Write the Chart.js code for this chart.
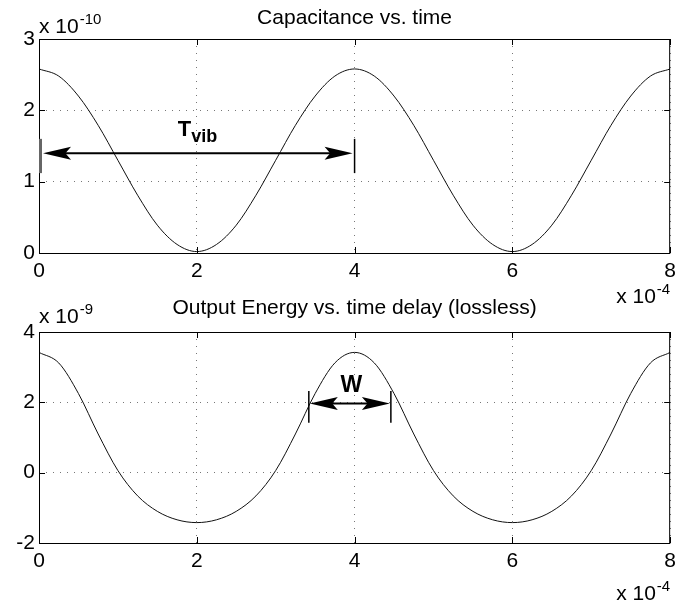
<!DOCTYPE html>
<html>
<head>
<meta charset="utf-8">
<script src="https://cdn.jsdelivr.net/npm/chart.js@4/dist/chart.umd.min.js"></script>
<style>
  body { margin: 0; background: #fff; }
  #wrap { position: relative; width: 682px; height: 603px; }
  canvas { position: absolute; left: 0; }
</style>
</head>
<body>
<div id="wrap">
  <canvas id="capChart" width="682" height="325" style="top:0px"></canvas>
  <canvas id="energyChart" width="682" height="323" style="top:280px"></canvas>
</div>
<script>
// --- data (time in 1e-4 s, capacitance in 1e-10 F, energy in 1e-9 J) ---
const timeE4 = [0, 0.25, 0.5, 0.75, 1, 1.25, 1.5, 1.75, 2, 2.25, 2.5, 2.75, 3, 3.25, 3.5, 3.75,
  4, 4.25, 4.5, 4.75, 5, 5.25, 5.5, 5.75, 6, 6.25, 6.5, 6.75, 7, 7.25, 7.5, 7.75, 8];
const capE10 = [2.58, 2.48, 2.20, 1.79, 1.30, 0.81, 0.39, 0.12, 0.02, 0.12, 0.39, 0.81, 1.30, 1.79, 2.20, 2.48,
  2.58, 2.48, 2.20, 1.79, 1.30, 0.81, 0.39, 0.12, 0.02, 0.12, 0.39, 0.81, 1.30, 1.79, 2.20, 2.48, 2.58];
const energyE9 = [3.42, 3.12, 2.25, 1.10, 0.06, -0.66, -1.10, -1.34, -1.42, -1.34, -1.10, -0.66, 0.06, 1.10, 2.25, 3.12,
  3.42, 3.12, 2.25, 1.10, 0.06, -0.66, -1.10, -1.34, -1.42, -1.34, -1.10, -0.66, 0.06, 1.10, 2.25, 3.12, 3.42];

const xTicks = [0, 2, 4, 6, 8];
const capTicks = [0, 1, 2, 3];
const energyTicks = [-2, 0, 2, 4];

// annotation spans (x from, x to) and levels
const tvibSpan = [0, 4];
const tvibLevel = 1.4;
const tvibBar = [1.12, 1.6];
const tvibLabelAt = [1.76, 1.64];
const wSpan = [3.42, 4.46];
const wLevel = 1.97;
const wBar = [1.42, 2.32];
const wLabelAt = [3.96, 2.28];

const FAMILY = '"Liberation Sans", Arial, Helvetica, sans-serif';
const FS = 21;

// --- helpers ---
function drawExp(ctx, x, base, exp, align) {
  ctx.font = `${FS}px ${FAMILY}`;
  const wBase = ctx.measureText('x 10').width;
  ctx.font = `${FS - 6}px ${FAMILY}`;
  const wSup = ctx.measureText(exp).width;
  const start = align === 'right' ? x - wBase - wSup - 1 : x;
  ctx.textAlign = 'left';
  ctx.font = `${FS}px ${FAMILY}`;
  ctx.fillText('x 10', start, base);
  ctx.font = `${FS - 6}px ${FAMILY}`;
  ctx.fillText(exp, start + wBase + 1, base - 9);
}

function drawArrow(ctx, x1, x2, y) {
  const len = 28, half = 6.5;
  ctx.lineWidth = 2;
  ctx.beginPath();
  ctx.moveTo(x1 + 10, y);
  ctx.lineTo(x2 - 10, y);
  ctx.stroke();
  [[x1, 1], [x2, -1]].forEach(([tip, dir]) => {
    ctx.beginPath();
    ctx.moveTo(tip, y);
    ctx.lineTo(tip + dir * len, y - half);
    ctx.lineTo(tip + dir * len * 0.8, y);
    ctx.lineTo(tip + dir * len, y + half);
    ctx.closePath();
    ctx.fill();
  });
}

function frameDecor(opts) {
  return {
    id: 'frameDecor',
    afterDraw(chart) {
      const { ctx, chartArea: a, scales: { x, y } } = chart;
      ctx.save();
      ctx.strokeStyle = '#000';
      ctx.fillStyle = '#000';
      ctx.lineWidth = 1;
      ctx.strokeRect(a.left + 0.5, a.top + 0.5, a.right - a.left - 1, a.bottom - a.top);

      // small inward ticks, matlab style
      ctx.beginPath();
      x.ticks.forEach(t => {
        const px = Math.round(x.getPixelForValue(t.value)) + 0.5;
        ctx.moveTo(px, a.bottom); ctx.lineTo(px, a.bottom - 6);
        ctx.moveTo(px, a.top); ctx.lineTo(px, a.top + 6);
      });
      y.ticks.forEach(t => {
        const py = Math.round(y.getPixelForValue(t.value)) + 0.5;
        ctx.moveTo(a.left, py); ctx.lineTo(a.left + 6, py);
        ctx.moveTo(a.right, py); ctx.lineTo(a.right - 6, py);
      });
      ctx.stroke();

      ctx.textBaseline = 'alphabetic';
      ctx.font = `${FS}px ${FAMILY}`;
      ctx.textAlign = 'center';
      ctx.fillText(opts.title, (a.left + a.right) / 2, a.top - opts.titleGap);
      drawExp(ctx, a.left, a.top - opts.yExpGap, opts.yExp, 'left');
      drawExp(ctx, a.right, a.bottom + opts.xExpGap, '-4', 'right');

      if (opts.extra) opts.extra(chart);
      ctx.restore();
    }
  };
}

function baseOptions(yMin, yMax, yStep, padTop, xHeight) {
  const tickFont = { family: FAMILY, size: FS };
  return {
    responsive: false,
    animation: false,
    layout: { padding: { top: padTop, right: 5, left: 0, bottom: 0 } },
    plugins: { legend: { display: false }, tooltip: { enabled: false } },
    scales: {
      x: {
        type: 'linear', min: 0, max: 8,
        afterFit: s => { s.height = xHeight; },
        grid: { color: '#777', drawTicks: false },
        border: { display: false, dash: [1, 6] },
        ticks: { stepSize: 2, font: tickFont, color: '#000', padding: 6, maxRotation: 0 }
      },
      y: {
        min: yMin, max: yMax,
        afterFit: s => { s.width = 39; },
        grid: { color: '#777', drawTicks: false },
        border: { display: false, dash: [1, 6] },
        ticks: { stepSize: yStep, font: tickFont, color: '#000', padding: 4 }
      }
    }
  };
}

function lineData(ys) {
  return {
    datasets: [{
      data: timeE4.map((t, i) => ({ x: t, y: ys[i] })),
      borderColor: '#111',
      borderWidth: 1,
      pointRadius: 0,
      cubicInterpolationMode: 'monotone'
    }]
  };
}

// --- Capacitance vs. time ---
new Chart(document.getElementById('capChart'), {
  type: 'line',
  data: lineData(capE10),
  options: baseOptions(capTicks[0], capTicks[capTicks.length - 1], 1, 39, 72),
  plugins: [frameDecor({
    title: 'Capacitance vs. time', titleGap: 15, yExp: '-10', yExpGap: 6, xExpGap: 50,
    extra(chart) {
      const { ctx, scales: { x, y } } = chart;
      const x1 = x.getPixelForValue(tvibSpan[0]), x2 = x.getPixelForValue(tvibSpan[1]);
      const py = y.getPixelForValue(tvibLevel);
      // end bars
      ctx.lineWidth = 3; ctx.strokeStyle = '#666';
      ctx.beginPath();
      ctx.moveTo(x1 + 1.5, y.getPixelForValue(tvibBar[0])); ctx.lineTo(x1 + 1.5, y.getPixelForValue(tvibBar[1]));
      ctx.stroke();
      ctx.lineWidth = 1.5; ctx.strokeStyle = '#000';
      ctx.beginPath();
      ctx.moveTo(x2, y.getPixelForValue(tvibBar[0])); ctx.lineTo(x2, y.getPixelForValue(tvibBar[1]));
      ctx.stroke();
      drawArrow(ctx, x1 + 4, x2 - 2, py);
      // label T_vib
      const lx = x.getPixelForValue(tvibLabelAt[0]), ly = y.getPixelForValue(tvibLabelAt[1]);
      ctx.textAlign = 'left';
      ctx.font = `bold 22px ${FAMILY}`;
      ctx.fillText('T', lx, ly);
      const wT = ctx.measureText('T').width;
      ctx.font = `bold 18px ${FAMILY}`;
      ctx.fillText('vib', lx + wT, ly + 6);
    }
  })]
});

// --- Output Energy vs. time delay (lossless) ---
new Chart(document.getElementById('energyChart'), {
  type: 'line',
  data: lineData(energyE9),
  options: baseOptions(energyTicks[0], energyTicks[energyTicks.length - 1], 2, 52, 60),
  plugins: [frameDecor({
    title: 'Output Energy vs. time delay (lossless)', titleGap: 18, yExp: '-9', yExpGap: 9, xExpGap: 57,
    extra(chart) {
      const { ctx, scales: { x, y } } = chart;
      const x1 = x.getPixelForValue(wSpan[0]), x2 = x.getPixelForValue(wSpan[1]);
      const py = y.getPixelForValue(wLevel);
      ctx.lineWidth = 1.5; ctx.strokeStyle = '#000';
      ctx.beginPath();
      [x1, x2].forEach(px => {
        ctx.moveTo(px, y.getPixelForValue(wBar[0])); ctx.lineTo(px, y.getPixelForValue(wBar[1]));
      });
      ctx.stroke();
      drawArrow(ctx, x1 + 1, x2 - 1, py);
      ctx.textAlign = 'center';
      ctx.font = `bold 23px ${FAMILY}`;
      ctx.fillText('W', x.getPixelForValue(wLabelAt[0]), y.getPixelForValue(wLabelAt[1]));
    }
  })]
});
</script>
</body>
</html>
